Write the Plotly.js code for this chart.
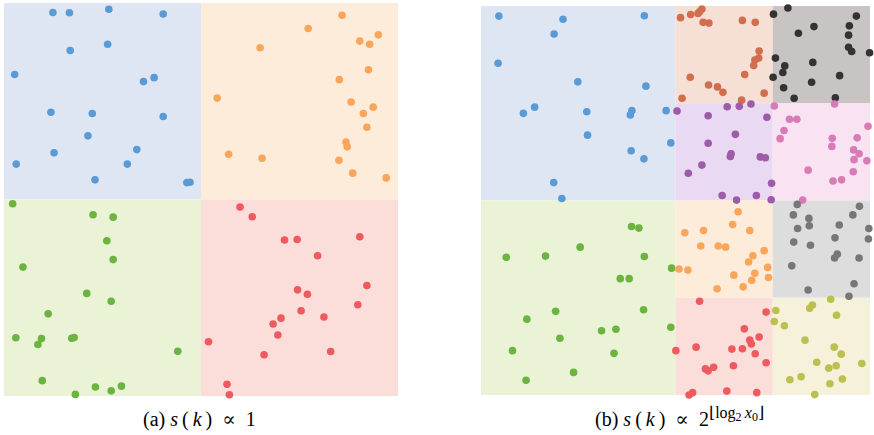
<!DOCTYPE html>
<html>
<head>
<meta charset="utf-8">
<script src="https://cdn.plot.ly/plotly-3.0.1.min.js"></script>
<style>html,body{margin:0;padding:0;background:#fff;}#chart{width:874px;height:435px;}</style>
</head>
<body>
<div id="chart"></div>
<script>
// ---------- Panel (a): s(k) ∝ 1 — four equal cells ----------
const aCellNames = ['blue', 'orange', 'green', 'red'];
const aCellX0 = [0, 50, 0, 50];
const aCellX1 = [50, 100, 50, 100];
const aCellY0 = [50, 50, 0, 0];
const aCellY1 = [100, 100, 50, 50];

const aBlueX = [12.4,16.6,26.6,40.4,16.8,26.3,2.7,35.4,38.1,11.9,22.4,40.4,21.3,12.7,33.7,3.1,31.3,23.1,46.4,47.2];
const aBlueY = [97.6,97.5,98.4,97.2,87.9,89.5,81.8,80.0,81.0,72.2,71.9,71.1,66.2,61.9,62.7,59.0,59.0,55.0,54.3,54.4];
const aOrangeX = [85.8,77.2,95.0,90.3,92.8,65.0,92.5,85.1,54.1,88.1,93.7,91.2,92.1,86.8,87.1,57.0,65.5,85.0,88.5,97.0];
const aOrangeY = [96.9,93.5,91.9,90.3,89.5,88.6,83.0,80.5,75.8,74.8,73.5,71.9,68.4,64.6,63.4,61.5,60.5,60.0,56.7,55.5];
const aGreenX = [2.2,22.6,27.7,26.1,27.7,4.8,21.0,27.2,11.2,3.0,9.5,8.6,17.2,17.8,44.1,9.7,23.2,27.2,29.8,18.1];
const aGreenY = [48.9,46.1,45.5,39.5,34.7,32.8,26.1,24.1,20.9,14.8,14.6,13.1,14.7,14.9,11.4,3.9,2.3,1.3,2.5,0.4];
const aRedX = [59.9,63.0,71.2,74.4,90.3,79.6,92.1,74.5,77.0,89.8,75.4,70.3,68.3,69.5,81.2,51.9,82.9,66.0,56.6,57.2];
const aRedY = [48.1,45.6,39.7,39.8,40.5,35.7,28.1,27.0,25.9,23.2,21.7,19.8,18.3,15.5,20.1,13.8,11.3,10.5,3.0,0.3];

// ---------- Panel (b): s(k) ∝ 2^{floor(log2 x0)} — refined right half ----------
const bCellNames = ['blue', 'green', 'brown', 'black', 'purple', 'pink', 'orange', 'grey', 'red', 'olive'];
const bCellX0 = [0, 0, 50, 75, 50, 75, 50, 75, 50, 75];
const bCellX1 = [50, 50, 75, 100, 75, 100, 75, 100, 75, 100];
const bCellY0 = [50, 0, 75, 75, 50, 50, 25, 25, 0, 0];
const bCellY1 = [100, 50, 100, 100, 75, 75, 50, 50, 25, 25];

const bBlueX = [4.6,21.1,42.0,18.8,4.4,24.9,42.4,13.8,10.9,27.2,38.8,38.4,47.6,27.4,48.8,38.6,41.9,18.7,20.8];
const bBlueY = [97.4,96.6,97.5,92.8,85.3,80.5,79.4,74.0,72.4,72.8,73.1,72.0,73.1,66.8,64.8,62.8,60.7,54.6,50.5];
const bGreenX = [38.7,40.6,25.5,6.5,16.6,42.0,49.0,35.8,38.1,41.8,19.2,11.8,31.0,34.7,48.8,20.3,8.1,34.2,23.8,11.6];
const bGreenY = [43.3,42.9,38.0,35.4,35.7,35.6,32.6,29.9,29.9,21.9,21.5,19.5,16.5,16.9,17.4,14.6,11.4,10.7,5.8,3.8];
const bBrownX = [51.3,53.9,55.8,56.8,56.2,57.1,58.6,67.2,70.5,71.5,71.4,70.4,70.1,67.8,53.8,58.5,60.8,62.2,72.8,51.7,67.0];
const bBrownY = [97.0,97.8,98.1,99.2,98.5,95.8,95.6,96.3,95.8,88.4,86.6,86.1,84.7,82.4,81.7,79.7,79.2,77.8,77.6,76.3,75.8];
const bBlackX = [75.2,78.9,96.5,85.6,81.6,94.7,94.5,94.5,95.3,99.9,75.7,78.1,77.6,85.3,92.2,75.1,85.0,77.8,80.5,91.1];
const bBlackY = [97.9,99.5,97.4,94.7,93.0,94.9,92.5,89.4,88.3,88.0,86.6,84.6,82.9,85.5,82.1,81.7,80.4,79.0,76.3,76.4];
const bPurpleX = [63.3,66.4,69.4,50.4,58.4,73.5,65.4,58.4,64.3,64.1,71.8,73.1,56.8,53.3,74.7,62.0,70.8,65.7,74.6];
const bPurpleY = [74.1,74.2,74.8,73.0,71.8,71.4,67.0,64.7,62.0,61.3,61.2,61.0,59.1,57.0,54.4,51.3,51.3,50.1,50.2];
const bPinkX = [75.4,90.9,79.3,81.2,77.9,76.9,99.5,90.3,96.7,90.2,95.8,97.2,95.9,99.2,84.1,95.7,92.7,90.5,82.7];
const bPinkY = [74.3,74.8,70.9,70.9,68.0,65.9,69.1,66.0,66.1,63.9,63.0,62.0,60.5,60.2,57.8,57.4,55.3,55.0,50.1];
const bOrangeX = [66.1,64.7,52.4,57.2,69.1,56.5,61.0,62.9,72.8,69.9,68.8,73.7,50.9,53.2,70.4,65.0,73.9,69.6,67.4,60.7];
const bOrangeY = [47.1,43.8,41.7,42.3,42.3,38.3,38.3,38.0,37.1,35.8,34.2,32.8,32.4,32.1,31.3,30.8,30.2,29.5,27.8,27.3];
const bGreyX = [81.3,97.3,80.3,95.6,84.3,84.4,81.4,92.1,99.7,91.0,99.6,80.4,84.7,91.6,90.9,97.2,79.9,95.9,84.1,94.6];
const bGreyY = [49.0,48.5,46.3,46.3,45.4,43.5,42.8,43.7,42.8,40.4,40.1,39.3,38.5,36.2,35.2,35.2,33.2,28.6,27.0,25.4];
const bRedX = [56.2,73.3,67.7,71.5,69.1,69.5,50.1,55.3,64.5,67.2,70.5,73.3,64.9,57.7,58.4,59.8,63.2,54.4,53.5,70.9];
const bRedY = [24.1,21.3,17.0,14.9,14.1,13.1,11.4,12.3,11.8,11.9,10.6,8.3,7.5,6.7,6.2,7.1,1.0,0.6,0.0,0.6];
const bOliveX = [89.9,85.2,84.5,75.8,91.4,75.4,78.0,83.3,90.8,92.6,86.3,89.4,91.3,97.9,82.3,79.4,92.9,89.7,85.8];
const bOliveY = [24.6,23.1,22.3,21.7,20.5,18.9,17.8,14.1,12.3,10.5,8.4,6.9,7.5,8.1,4.7,3.9,4.1,2.9,0.1];

// captions
const captionA = '(a) <i>s</i>\u2009(\u2009<i>k</i>\u2009)\u2002\u221D\u20021';
const captionB = '(b) <i>s</i>\u2009(\u2009<i>k</i>\u2009)\u2002\u221D\u20022<sup><span style="font-size:16px">\u230Alog<sub><span style="font-size:12px">2</span></sub>\u2009<i>x</i><sub><span style="font-size:12px">0</span></sub>\u230B</span></sup>';

// ---------- styles ----------
const pointColor = {
  blue: '#5b9bd5', orange: '#f8a65c', green: '#6cb33f', red: '#ef5a5f', brown: '#d16e4d',
  black: '#333333', purple: '#9d5ba8', pink: '#d97bb6', grey: '#777777', olive: '#bcc04f'
};
const cellColor = {
  blue: '#dfe6f3', orange: '#fdecda', green: '#eaf3d6', red: '#fbddd9', brown: '#f6dfd4',
  black: '#c8c4c3', purple: '#e9d9f2', pink: '#f9e3f2', grey: '#dddddd', olive: '#f6f1da'
};

function pts(x, y, name, xa, ya) {
  return {
    type: 'scatter', mode: 'markers', x: x, y: y, xaxis: xa, yaxis: ya,
    cliponaxis: false, hoverinfo: 'skip', showlegend: false,
    marker: { size: 7.6, color: pointColor[name], line: { width: 0 } }
  };
}

const traces = [
  pts(aBlueX, aBlueY, 'blue', 'x', 'y'),
  pts(aOrangeX, aOrangeY, 'orange', 'x', 'y'),
  pts(aGreenX, aGreenY, 'green', 'x', 'y'),
  pts(aRedX, aRedY, 'red', 'x', 'y'),
  pts(bBlueX, bBlueY, 'blue', 'x2', 'y2'),
  pts(bGreenX, bGreenY, 'green', 'x2', 'y2'),
  pts(bBrownX, bBrownY, 'brown', 'x2', 'y2'),
  pts(bBlackX, bBlackY, 'black', 'x2', 'y2'),
  pts(bPurpleX, bPurpleY, 'purple', 'x2', 'y2'),
  pts(bPinkX, bPinkY, 'pink', 'x2', 'y2'),
  pts(bOrangeX, bOrangeY, 'orange', 'x2', 'y2'),
  pts(bGreyX, bGreyY, 'grey', 'x2', 'y2'),
  pts(bRedX, bRedY, 'red', 'x2', 'y2'),
  pts(bOliveX, bOliveY, 'olive', 'x2', 'y2')
];

const shapes = [];
aCellNames.forEach((n, i) => shapes.push({
  type: 'rect', xref: 'x', yref: 'y', layer: 'below',
  x0: aCellX0[i], x1: aCellX1[i], y0: aCellY0[i], y1: aCellY1[i],
  fillcolor: cellColor[n], line: { width: 0 }
}));
bCellNames.forEach((n, i) => shapes.push({
  type: 'rect', xref: 'x2', yref: 'y2', layer: 'below',
  x0: bCellX0[i], x1: bCellX1[i], y0: bCellY0[i], y1: bCellY1[i],
  fillcolor: cellColor[n], line: { width: 0 }
}));

const hiddenAxis = (dom) => ({
  domain: dom, range: [0, 100], visible: false, fixedrange: true,
  showgrid: false, zeroline: false
});

const capFont = { family: 'Liberation Serif, Times New Roman, DejaVu Serif, serif', size: 20, color: '#000' };

const layout = {
  width: 874, height: 435,
  margin: { l: 0, r: 0, t: 0, b: 0 },
  paper_bgcolor: '#ffffff', plot_bgcolor: 'rgba(0,0,0,0)',
  showlegend: false,
  xaxis: hiddenAxis([0.0046, 0.4554]),
  yaxis: hiddenAxis([0.0897, 0.9931]),
  xaxis2: Object.assign(hiddenAxis([0.5503, 0.9954]), { anchor: 'y2' }),
  yaxis2: Object.assign(hiddenAxis([0.0920, 0.9862]), { anchor: 'x2' }),
  shapes: shapes,
  annotations: [
    { text: captionA, xref: 'paper', yref: 'paper', x: 0.228, y: 0.036,
      xanchor: 'center', yanchor: 'middle', showarrow: false, font: capFont },
    { text: captionB, xref: 'paper', yref: 'paper', x: 0.777, y: 0.040,
      xanchor: 'center', yanchor: 'middle', showarrow: false, font: capFont }
  ]
};

Plotly.newPlot('chart', traces, layout, { staticPlot: true, displayModeBar: false });
</script>
</body>
</html>
